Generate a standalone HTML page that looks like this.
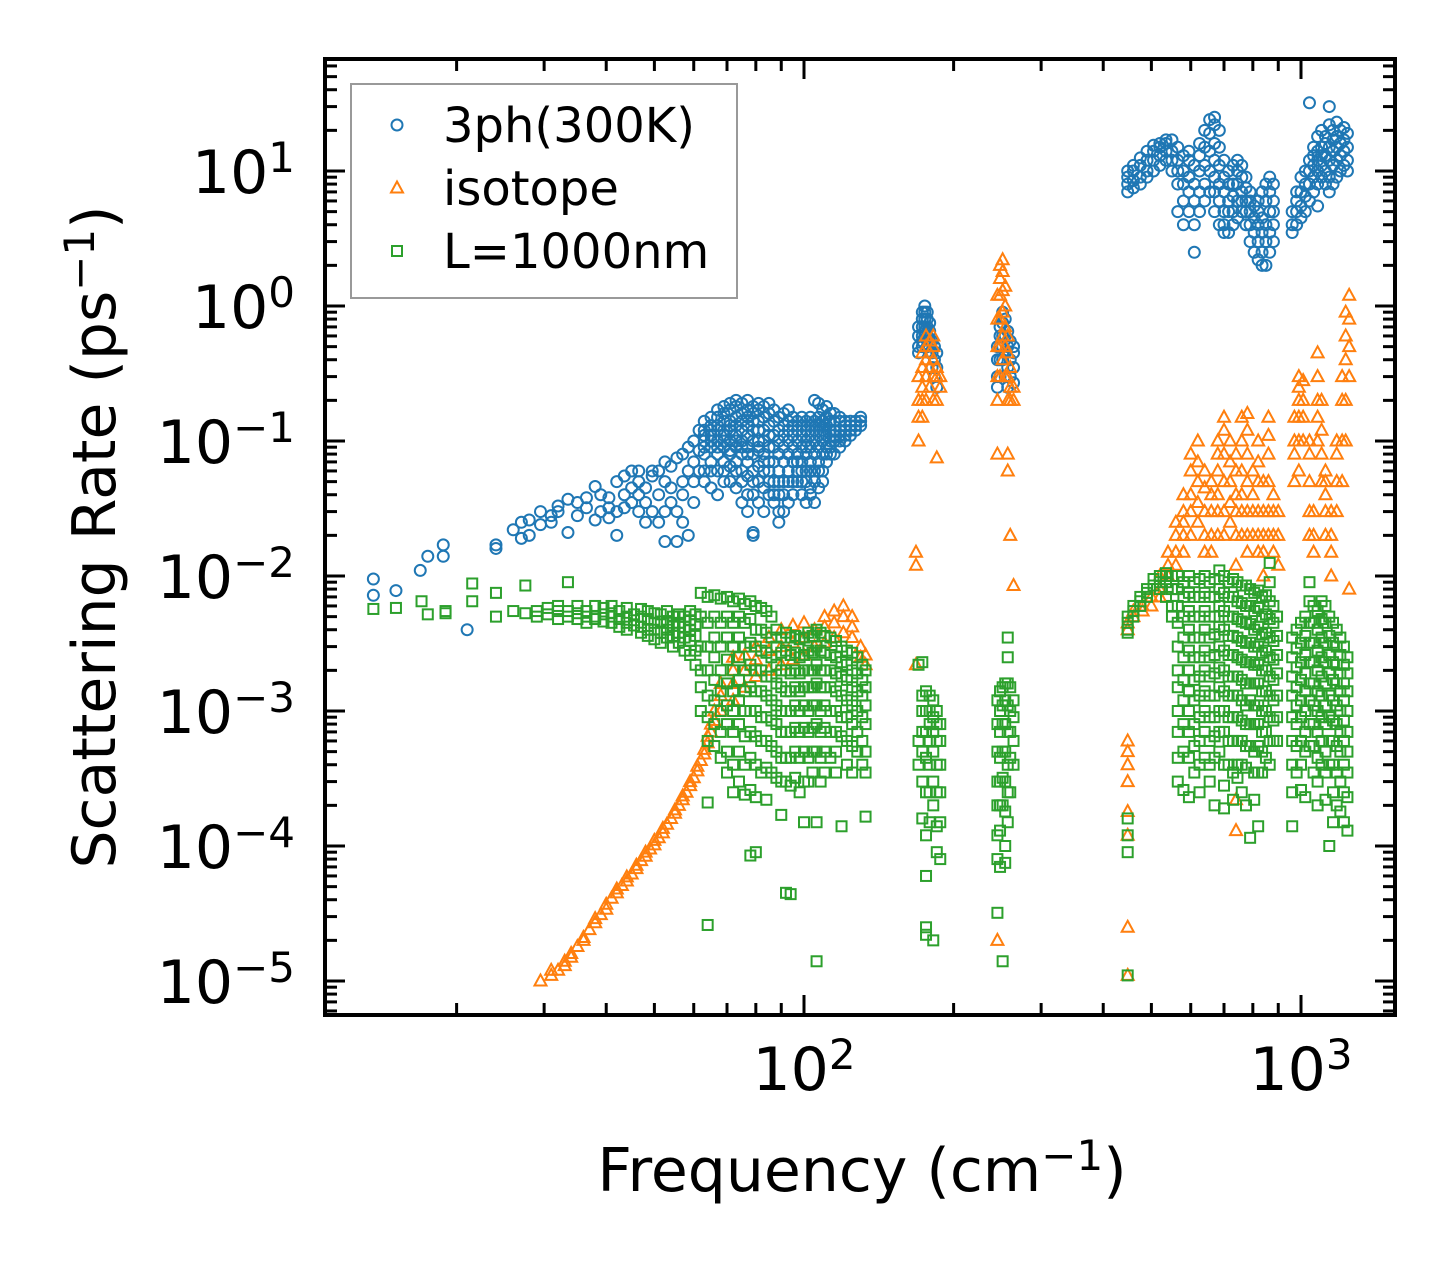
<!DOCTYPE html>
<html><head><meta charset="utf-8"><style>
html,body{margin:0;padding:0;background:#fff;}
svg{display:block;font-family:"DejaVu Sans","Liberation Sans",sans-serif;}
</style></head><body>
<svg id="chart" width="1455" height="1265" viewBox="0 0 1455 1265" xmlns="http://www.w3.org/2000/svg">
<rect width="1455" height="1265" fill="#fff"/>
<g id="marks"></g>
<g id="axes"></g>
</svg>
<script>
// ---- data (frequency cm^-1, list of scattering rates ps^-1) ----
const threePh = [[13.6,[0.0095,0.0072]],[15.1,[0.0078]],[16.9,[0.011]],[17.5,[0.014]],[18.8,[0.017,0.014]],[21,[0.004]],[24,[0.016,0.017]],[26,[0.022]],[27,[0.025,0.019]],[28,[0.02,0.026]],[29.5,[0.03,0.024]],[31,[0.025,0.028]],[32,[0.03,0.033]],[33.5,[0.037,0.021]],[35,[0.028,0.035]],[36.5,[0.038,0.032]],[38,[0.046,0.026]],[39,[0.03,0.04]],[40.5,[0.032,0.027,0.038]],[42,[0.02,0.05,0.03]],[43.5,[0.055,0.04,0.032]],[45,[0.045,0.06,0.035]],[46.5,[0.05,0.03,0.04,0.06]],[48,[0.045,0.035,0.025]],[49.5,[0.055,0.06,0.03]],[51,[0.04,0.025,0.06]],[52.5,[0.07,0.05,0.03,0.018]],[54,[0.065,0.035,0.045]],[55.5,[0.075,0.03,0.018]],[57,[0.08,0.05,0.04,0.025]],[58.5,[0.06,0.09,0.02]],[60,[0.07,0.05,0.1,0.035]],[61.5,[0.085,0.06,0.12]],
[63,[0.06,0.08,0.1,0.12,0.14,0.09,0.05,0.11]],[65,[0.07,0.09,0.11,0.13,0.15,0.1,0.06,0.12,0.045]],[67,[0.06,0.08,0.1,0.12,0.15,0.17,0.09,0.13,0.04]],[69,[0.07,0.09,0.11,0.14,0.16,0.18,0.1,0.12,0.05,0.06]],[71,[0.065,0.085,0.1,0.12,0.14,0.17,0.19,0.08,0.05,0.13]],[73,[0.07,0.09,0.11,0.13,0.15,0.18,0.2,0.06,0.045,0.1]],[75,[0.06,0.08,0.1,0.12,0.14,0.16,0.19,0.09,0.05,0.035]],[77,[0.07,0.09,0.11,0.13,0.15,0.17,0.2,0.08,0.055,0.04,0.03]],[79,[0.06,0.08,0.1,0.12,0.14,0.16,0.18,0.05,0.04,0.021,0.02]],[81,[0.065,0.085,0.1,0.12,0.14,0.17,0.19,0.09,0.05,0.035]],[83,[0.06,0.08,0.1,0.12,0.15,0.18,0.07,0.045,0.03]],[85,[0.05,0.07,0.09,0.11,0.13,0.16,0.19,0.04,0.06]],[87,[0.05,0.07,0.09,0.11,0.14,0.17,0.04,0.035]],[89,[0.06,0.08,0.1,0.12,0.15,0.05,0.04,0.03,0.025]],[91,[0.05,0.07,0.09,0.11,0.13,0.16,0.04,0.03]],[93,[0.06,0.08,0.1,0.12,0.14,0.17,0.05,0.035]],[95,[0.05,0.07,0.09,0.11,0.13,0.15,0.04]],[97,[0.06,0.08,0.1,0.12,0.14,0.07,0.05]],[99,[0.05,0.07,0.09,0.11,0.13,0.15,0.06,0.04]],[101,[0.06,0.08,0.1,0.12,0.14,0.09,0.05,0.035]],[103,[0.07,0.09,0.11,0.13,0.15,0.06,0.045,0.04]],[105,[0.06,0.08,0.1,0.12,0.14,0.2,0.05,0.035]],[107,[0.07,0.09,0.11,0.13,0.15,0.19,0.06,0.045]],[109,[0.06,0.08,0.1,0.12,0.14,0.17,0.05]],[111,[0.07,0.09,0.11,0.13,0.15,0.18,0.08]],[113,[0.08,0.1,0.12,0.14,0.16,0.09]],[115,[0.08,0.1,0.12,0.14,0.16,0.11]],[118,[0.09,0.1,0.12,0.14,0.15,0.11]],[121,[0.1,0.11,0.12,0.13,0.14]],[124,[0.11,0.12,0.13,0.14]],[127,[0.12,0.13,0.14]],[130,[0.13,0.14,0.15]],
[170,[0.45,0.5,0.6,0.7]],[173,[0.5,0.6,0.7,0.8,0.9,0.55]],[175,[0.6,0.7,0.8,0.9,1.0,0.65]],[177,[0.5,0.6,0.7,0.8,0.9]],[179,[0.45,0.55,0.65,0.75]],[181,[0.35,0.45,0.55]],[183,[0.3,0.4,0.5]],[185,[0.25,0.35,0.45]],
[245,[0.25,0.3,0.4,0.5]],[248,[0.3,0.4,0.5,0.6,0.7]],[251,[0.4,0.5,0.6,0.75,0.9]],[254,[0.3,0.45,0.6,0.8]],[257,[0.25,0.35,0.5,0.65]],[260,[0.3,0.4,0.55]],[264,[0.27,0.35,0.45,0.5]],
[448,[7,8,9,10]],[460,[7.5,8.5,10,11]],[475,[8,9,11,12.5]],[490,[9,10,12,14]],[505,[10,12,14,15.5]],[520,[11,13,15,16]],[535,[12,14,16,17]],[550,[10,12,14,17]],[565,[8,10,12,15,5]],[580,[6,8,10,13,4]],[595,[5,7,9,12,14]],[610,[4,6,8,11,2.5]],[625,[5,7,10,13,16]],[640,[6,8,11,15,20]],[655,[7,10,14,19,24]],[670,[5,7,9,12,16,22,25]],[685,[4,6,8,11,15,20]],[700,[4,5,7,9,12,3.5]],[715,[3.5,5,6,8,10]],[730,[4,5,6.5,8,11]],[745,[4.5,6,8,10,12]],[760,[5,6,7,9,11]],[775,[4,5,6,7.5,9]],[790,[3,4,5,6,7]],[805,[2.5,3.5,4.5,5.5]],[820,[2.2,3,4,5,6]],[835,[2,2.5,3.5,4.5,7]],[850,[2,3,4,6,8]],[865,[2.5,3.5,5,7,9]],[880,[3,4,5,6,8]],
[960,[3.5,4,5]],[980,[4,5,6,7]],[1000,[4.5,5.5,7,9]],[1020,[5,6.5,8,10]],[1040,[6,8,10,12,32]],[1060,[7,9,11,13,15]],[1080,[8,10,12,14,18,5.5]],[1100,[9,11,13,15,20]],[1120,[8,10,13,16,18]],[1140,[7,9,12,15,22,30]],[1160,[8,11,14,17,20]],[1180,[9,12,15,18,23]],[1200,[10,13,16,20]],[1220,[11,14,17,21]],[1240,[10,12,15,19]]];

const isotope = [[29.5,[1e-5]],[31,[1.1e-5,1.2e-5]],[32,[1.2e-5]],[33,[1.4e-5,1.3e-5]],[34,[1.6e-5,1.5e-5]],[35,[1.8e-5]],[36,[2.1e-5,2e-5]],[37,[2.4e-5]],[38,[2.7e-5,2.9e-5]],[39,[3.1e-5]],[40,[3.4e-5,3.7e-5]],[41,[4.1e-5]],[42,[4.5e-5,4.8e-5]],[43,[5.1e-5]],[44,[5.5e-5,5.9e-5]],[45,[6.2e-5]],[46,[6.8e-5,7.2e-5]],[47,[7.8e-5]],[48,[8.4e-5,9e-5]],[49,[9.5e-5]],[50,[1.02e-4,1.1e-4]],[51,[1.15e-4]],[52,[1.25e-4,1.35e-4]],[53,[1.45e-4]],[54,[1.6e-4]],[55,[1.75e-4,1.85e-4]],[56,[2e-4]],[57,[2.2e-4,2.35e-4]],[58,[2.5e-4]],[59,[2.8e-4,3e-4]],[60,[3.2e-4]],[61,[3.6e-4,3.9e-4]],[62,[4.3e-4]],[63,[4.8e-4,5.2e-4]],[64,[5.8e-4,6.5e-4]],[65,[7e-4,8e-4]],[66,[8.5e-4,1e-3]],
[68,[1e-3,1.3e-3,1.6e-3]],[72,[1.2e-3,1.6e-3,2e-3,2.5e-3]],[76,[1.5e-3,2e-3,2.6e-3]],[80,[1.8e-3,2.4e-3,3e-3]],[85,[2e-3,2.8e-3,3.5e-3]],[90,[2.2e-3,3e-3,4e-3]],[95,[2.4e-3,3.2e-3,4.3e-3]],[100,[2.6e-3,3.5e-3,4.5e-3]],[105,[3e-3,4e-3]],[110,[3.2e-3,4.2e-3,5e-3]],[115,[3.5e-3,4.5e-3,5.5e-3]],[120,[3.8e-3,5e-3,6e-3]],[125,[3.5e-3,4.2e-3,5e-3]],[130,[2.5e-3,3e-3]],[133,[2.2e-3,2.6e-3]],
[168,[0.0022,0.012,0.015]],[170,[0.1,0.15,0.2,0.3]],[173,[0.15,0.2,0.25,0.35,0.45]],[176,[0.2,0.3,0.4,0.5,0.6]],[179,[0.25,0.35,0.45,0.55]],[182,[0.2,0.3,0.4,0.5,0.6]],[185,[0.2,0.3,0.35,0.075]],[188,[0.25,0.3]],
[245,[0.08,0.2,0.3,0.5,0.8,1.2,2e-5]],[248,[0.3,0.5,0.8,1.2,1.6,2.0]],[251,[0.4,0.6,0.9,1.3,1.8,2.2]],[254,[0.3,0.5,0.7,1.0,1.4]],[257,[0.2,0.3,0.45,0.6,0.08,0.06]],[260,[0.2,0.25,0.35,0.02]],[264,[0.2,0.25,0.0085]],
[448,[6e-4,5e-4,4e-4,3e-4,1.8e-4,1.2e-4,2.5e-5,1.1e-5,4e-3,4.5e-3]],
[460,[5e-3,5.5e-3]],[480,[5.5e-3,6e-3]],[500,[6e-3,7e-3]],[520,[7e-3,8e-3,0.01]],[540,[0.01,0.012,0.015]],[560,[0.012,0.015,0.02,0.025]],[580,[0.015,0.02,0.025,0.03,0.04]],[600,[0.02,0.03,0.04,0.06,0.08]],[620,[0.025,0.035,0.05,0.07,0.1]],[640,[0.015,0.02,0.03,0.045,0.06]],[660,[0.015,0.02,0.03,0.04,0.05]],[680,[0.02,0.03,0.04,0.06,0.08,0.1]],[700,[0.02,0.03,0.05,0.08,0.12,0.15]],[720,[0.025,0.035,0.05,0.07,0.1]],[740,[0.012,0.02,0.03,0.04,0.06,0.08,1.3e-4,2.2e-4]],[760,[0.02,0.03,0.04,0.06,0.1,0.15]],[780,[0.015,0.02,0.03,0.05,0.08,0.12,0.16]],[800,[0.02,0.03,0.04,0.06]],[820,[0.015,0.02,0.03,0.05,0.07,0.1]],[840,[0.01,0.015,0.02,0.03,0.05]],[860,[0.02,0.03,0.05,0.08,0.11,0.15]],[880,[0.015,0.02,0.03,0.04]],[900,[0.012,0.02,0.03]],
[970,[0.05,0.08,0.1,0.15]],[990,[0.06,0.1,0.15,0.2,0.25,0.3]],[1010,[0.1,0.15,0.2,0.28]],[1040,[0.02,0.03,0.05,0.08,0.1]],[1060,[0.015,0.02,0.03]],[1080,[0.1,0.15,0.2,0.3,0.45]],[1100,[0.05,0.08,0.12,0.2]],[1120,[0.02,0.03,0.05,0.06,0.04]],[1150,[0.01,0.015,0.02,0.03]],[1180,[0.03,0.05,0.08,0.1]],[1210,[0.05,0.1,0.2,0.3]],[1230,[0.1,0.2,0.4,0.6,0.9]],[1250,[0.3,0.5,0.8,1.2,0.008]]];

const boundary = [[13.6,[0.0057]],[15.1,[0.0058]],[17,[0.0065]],[17.5,[0.0052]],[19,[0.0055,0.0053]],[21.5,[0.0088,0.0065]],[24,[0.0075,0.005]],[26,[0.0055]],[27.5,[0.0053,0.0085]],[29,[0.005,0.0055]],[30.5,[0.0052,0.0058]],[32,[0.006,0.0055,0.0048]],[33.5,[0.009,0.0055,0.005]],[35,[0.0053,0.0048,0.006]],[36.5,[0.0055,0.005,0.0045]],[38,[0.006,0.0048,0.005]],[39.5,[0.0058,0.0046,0.0052]],[41,[0.0053,0.0045,0.006,0.005]],[42.5,[0.0055,0.0048,0.0042]],[44,[0.0058,0.005,0.0045,0.004]],[45.5,[0.0052,0.0047,0.0043]],[47,[0.0057,0.005,0.0042,0.0038]],[48.5,[0.0055,0.0048,0.004,0.0036]],[50,[0.0053,0.0045,0.004,0.0034]],[51.5,[0.0052,0.0046,0.0038,0.0032]],[53,[0.0055,0.0045,0.004,0.0035]],[54.5,[0.005,0.0043,0.0036,0.003]],[56,[0.0052,0.0045,0.0038,0.0032]],[57.5,[0.005,0.0042,0.0035,0.0028]],[59,[0.0055,0.0047,0.004,0.0033,0.0026]],[60.5,[0.0052,0.0044,0.0036,0.0028,0.0022]],
[62,[0.0075,0.005,0.003,0.002,0.0015,0.001]],[64,[0.007,0.0045,0.003,0.002,0.0013,9e-4,6e-4,2.6e-5,2.1e-4]],[66,[0.0072,0.005,0.0035,0.0025,0.0017,0.0012,8e-4,5.5e-4]],[68,[0.0068,0.0045,0.003,0.002,0.0014,0.001,7e-4,4.5e-4]],[70,[0.007,0.005,0.0035,0.0024,0.0016,0.0011,8e-4,5e-4,3.5e-4]],[72,[0.0065,0.0045,0.003,0.002,0.0014,0.001,7e-4,4e-4,2.5e-4]],[74,[0.0068,0.005,0.0035,0.0025,0.0017,0.0012,8e-4,5e-4,3e-4]],[76,[0.0062,0.0045,0.003,0.002,0.0014,0.001,6.5e-4,4e-4,2.4e-4]],[78,[0.0065,0.0048,0.0032,0.0022,0.0015,0.001,7e-4,4.5e-4,2.6e-4,8.5e-5]],[80,[0.006,0.004,0.003,0.002,0.0014,0.001,6.5e-4,4e-4,2.3e-4,9e-5]],[82,[0.0058,0.004,0.0028,0.002,0.0014,9e-4,6e-4,3.5e-4]],[84,[0.0055,0.0038,0.0027,0.0018,0.0013,9e-4,6e-4,3.8e-4,2.2e-4]],[86,[0.005,0.0035,0.0025,0.0018,0.0012,8.5e-4,5.5e-4,3.5e-4]],[88,[0.004,0.003,0.0022,0.0016,0.0011,8e-4,5e-4,3.2e-4]],[90,[0.0035,0.0027,0.002,0.0015,0.001,7e-4,4.5e-4,3e-4,1.7e-4]],[92,[0.0038,0.0028,0.002,0.0014,0.001,7e-4,4.5e-4,3e-4,4.5e-5]],[94,[0.0035,0.0026,0.0019,0.0014,0.001,7e-4,4.5e-4,2.8e-4,4.4e-5]],[96,[0.0036,0.0027,0.002,0.0015,0.0011,7.5e-4,5e-4,3.2e-4]],[98,[0.0034,0.0025,0.0019,0.0014,0.001,7e-4,4.5e-4,2.5e-4]],[100,[0.0035,0.0026,0.002,0.0015,0.0011,7.5e-4,5e-4,3e-4,1.5e-4]],[102,[0.0038,0.0028,0.002,0.0015,0.001,7e-4,4.5e-4,3e-4]],[104,[0.0036,0.0027,0.002,0.0015,0.0011,7.5e-4,5e-4,3.5e-4]],[106,[0.004,0.003,0.0022,0.0016,0.0011,8e-4,5e-4,1.5e-4,1.4e-5]],[108,[0.0038,0.0028,0.002,0.0015,0.001,7e-4,4.5e-4,3e-4]],[110,[0.0036,0.0027,0.002,0.0015,0.0011,7.5e-4,5e-4,3.5e-4]],[113,[0.0035,0.0026,0.002,0.0015,0.001,7e-4,4.5e-4]],[116,[0.0033,0.0025,0.0019,0.0014,0.001,7e-4,5e-4,3.5e-4]],[119,[0.003,0.0023,0.0018,0.0013,9e-4,6.5e-4,1.4e-4]],[122,[0.0028,0.0022,0.0017,0.0012,9e-4,6e-4,4e-4]],[125,[0.0027,0.002,0.0015,0.0011,8e-4,5.5e-4,3.5e-4]],[128,[0.0025,0.0019,0.0014,0.001,7e-4,5e-4]],[131,[0.0022,0.0017,0.0013,9e-4,6e-4,4e-4]],[133,[0.002,0.0015,0.0011,8e-4,5e-4,3.5e-4,1.65e-4]],
[170,[2.2e-3,6e-4,4e-4]],[173,[2.3e-3,1.3e-3,1e-3,7e-4,5e-4,3e-4,1.6e-4]],[176,[1.4e-3,1e-3,7e-4,4.5e-4,2.5e-4,1.2e-4,6e-5,2.5e-5,2.2e-5]],[179,[1.3e-3,1e-3,8e-4,6e-4,4e-4,2.5e-4,1.5e-4]],[182,[1.2e-3,9e-4,7e-4,5e-4,3e-4,2e-4,2e-5]],[185,[1e-3,8e-4,6e-4,4e-4,2.5e-4,1.4e-4,9e-5]],[188,[8e-4,6e-4,4e-4,2.5e-4,1.5e-4,8e-5]],
[245,[1.2e-3,8e-4,5e-4,3e-4,2e-4,1.2e-4,8e-5,3.2e-5]],[248,[1.4e-3,1e-3,7e-4,4.5e-4,3e-4,2e-4,1.3e-4,7e-5]],[251,[1.5e-3,1.1e-3,8e-4,5e-4,3.2e-4,2e-4,1.4e-5]],[254,[1.6e-3,1.2e-3,8e-4,5e-4,3e-4,1.8e-4,1e-4,7.5e-5]],[257,[3.5e-3,2.5e-3,1.6e-3,1.1e-3,7e-4,4e-4,2.5e-4,1.5e-4]],[260,[1.5e-3,1e-3,7e-4,4.5e-4,2.5e-4]],[264,[1.2e-3,9e-4,6e-4,4e-4]],
[448,[5e-3,4.5e-3,4e-3,3.8e-3,1.6e-4,1.2e-4,9e-5,1.1e-5]],
[460,[5.5e-3,5e-3,6e-3]],[475,[6e-3,7e-3,6.5e-3]],[490,[7e-3,8e-3,7.5e-3]],[505,[8.5e-3,9.5e-3]],[520,[9e-3,1e-2,8e-3]],[535,[1e-2,1.05e-2,9e-3,7e-3]],[550,[1e-2,8e-3,6e-3,5e-3]],[565,[0.01,0.008,0.006,0.0045,0.003,0.002,0.0015,0.001,7e-4,4.5e-4,3e-4]],[580,[0.009,0.007,0.005,0.0035,0.0025,0.0017,0.0012,8e-4,5e-4,2.6e-4]],[595,[0.01,0.0075,0.0055,0.004,0.0028,0.002,0.0014,0.001,7e-4,4.5e-4,2.3e-4]],[610,[0.009,0.007,0.005,0.0035,0.0025,0.0017,0.0012,8e-4,5.5e-4,3.5e-4]],[625,[0.0095,0.007,0.005,0.0035,0.0025,0.0018,0.0013,9e-4,6e-4,4e-4,2.5e-4]],[640,[0.01,0.0075,0.0055,0.004,0.0028,0.002,0.0014,0.001,7e-4,4.5e-4]],[655,[0.009,0.007,0.005,0.0035,0.0025,0.0018,0.0013,9e-4,6e-4,4e-4,3e-4]],[670,[0.0095,0.007,0.005,0.0037,0.0026,0.0019,0.0013,9e-4,6.5e-4,4.5e-4,2e-4]],[685,[0.011,0.008,0.006,0.0042,0.003,0.0021,0.0015,0.001,7e-4,5e-4]],[700,[0.01,0.0075,0.0055,0.004,0.0028,0.002,0.0014,0.001,7e-4,4e-4,2.8e-4,1.9e-4]],[715,[0.009,0.007,0.005,0.0036,0.0026,0.0018,0.0013,9e-4,6e-4,4e-4]],[730,[0.0095,0.007,0.005,0.0036,0.0026,0.0018,0.0013,9e-4,6e-4,3.5e-4,2.2e-4]],[745,[0.009,0.0065,0.0048,0.0035,0.0025,0.0018,0.0013,9e-4,6e-4,4e-4,3.2e-4]],[760,[0.0085,0.0063,0.0046,0.0033,0.0024,0.0017,0.0012,8.5e-4,6e-4,4e-4,2.5e-4]],[775,[0.0085,0.006,0.0045,0.0032,0.0023,0.0016,0.0011,8e-4,5.5e-4,3.8e-4,2e-4]],[790,[0.008,0.006,0.0044,0.0032,0.0023,0.0016,0.0012,8e-4,5.5e-4,1.15e-4]],[805,[0.0075,0.0055,0.004,0.003,0.0022,0.0016,0.0011,8e-4,5e-4,3.5e-4,2.2e-4]],[820,[0.0078,0.0058,0.0042,0.003,0.0022,0.0016,0.0011,8e-4,5.5e-4,3.5e-4,1.4e-4]],[835,[0.007,0.005,0.0037,0.0027,0.002,0.0014,0.001,7e-4,5e-4,3.5e-4]],[850,[0.0072,0.0052,0.0038,0.0028,0.002,0.0014,0.001,7e-4,4.5e-4]],[865,[0.0125,0.009,0.0065,0.0048,0.0035,0.0025,0.0018,0.0013,9e-4,6e-4,4e-4]],[880,[0.006,0.0045,0.0033,0.0024,0.0017,0.0012,8.5e-4,6e-4]],[895,[0.005,0.0036,0.0026,0.0019,0.0013,9e-4,6e-4]],
[960,[0.0035,0.0025,0.0018,0.0013,9e-4,6e-4,4e-4,2.5e-4,1.4e-4]],[980,[0.004,0.0029,0.0021,0.0015,0.0011,8e-4,5.5e-4,3.5e-4]],[1000,[0.0045,0.0032,0.0023,0.0017,0.0012,9e-4,6e-4,4e-4,2.6e-4]],[1020,[0.005,0.0036,0.0026,0.0019,0.0014,0.001,7e-4,5e-4,2.3e-4]],[1040,[0.009,0.0065,0.0045,0.0032,0.0023,0.0016,0.0012,8e-4,5.5e-4]],[1060,[0.006,0.0045,0.0032,0.0023,0.0016,0.0011,8e-4,5.5e-4,3.5e-4]],[1080,[0.0055,0.004,0.0028,0.002,0.0014,0.001,7e-4,4.5e-4,3e-4,2e-4]],[1100,[0.0065,0.0048,0.0035,0.0025,0.0018,0.0013,9e-4,6e-4,4e-4]],[1120,[0.006,0.0045,0.0032,0.0023,0.0016,0.0011,8e-4,5e-4,3.5e-4,2.2e-4]],[1140,[0.005,0.0036,0.0026,0.0019,0.0013,9e-4,6e-4,4e-4,1e-4]],[1160,[0.0045,0.0032,0.0023,0.0017,0.0012,8.5e-4,6e-4,4e-4,2.5e-4,1.5e-4]],[1180,[0.004,0.003,0.0022,0.0016,0.0011,8e-4,5.5e-4,3.5e-4,2e-4]],[1200,[0.0035,0.0026,0.0019,0.0014,0.001,7e-4,5e-4,3e-4,1.8e-4]],[1220,[0.003,0.0022,0.0016,0.0012,8.5e-4,6e-4,4e-4,2.5e-4,1.5e-4]],[1240,[0.0025,0.0019,0.0014,0.001,7e-4,5e-4,3.5e-4,2.3e-4,1.3e-4]]];

const xMajorTicks = [100, 1000];
const xMajorLabels = ["2", "3"];
const yMajorTicks = [1e-5, 1e-4, 1e-3, 1e-2, 1e-1, 1, 10];
const yMajorLabels = ["\u22125", "\u22124", "\u22123", "\u22122", "\u22121", "0", "1"];
const legendLabels = ["3ph(300K)", "isotope", "L=1000nm"];

// ---- axes geometry ----
const NS = "http://www.w3.org/2000/svg";
const L = 325, R = 1395, T = 59, B = 1015;
const X0 = 804, XD = 497;   // pixel of 10^2, px per decade
const Y0 = 171, YD = 135;   // pixel of 10^1, px per decade
function xs(f) { return X0 + XD * (Math.log10(f) - 2); }
function ys(v) { return Y0 + YD * (1 - Math.log10(v)); }
const xMin = Math.pow(10, 2 + (L - X0) / XD), xMax = Math.pow(10, 2 + (R - X0) / XD);
const yMin = Math.pow(10, 1 - (B - Y0) / YD), yMax = Math.pow(10, 1 - (T - Y0) / YD);

function mk(tag, attrs, parent) {
  const e = document.createElementNS(NS, tag);
  for (const k in attrs) e.setAttribute(k, attrs[k]);
  parent.appendChild(e);
  return e;
}
const marks = document.getElementById('marks');
const axes = document.getElementById('axes');

function circle(g, x, y, c) { return mk('circle', {cx: x, cy: y, r: 5.5, fill: 'none', stroke: c, 'stroke-width': 2}, g); }
function tri(g, x, y, c) { return mk('path', {d: `M${x},${y-6.5}L${x+6},${y+4.5}L${x-6},${y+4.5}Z`, fill: 'none', stroke: c, 'stroke-width': 2}, g); }
function sq(g, x, y, c) { return mk('rect', {x: x-5, y: y-5, width: 10, height: 10, fill: 'none', stroke: c, 'stroke-width': 2}, g); }

function drawSeries(data, name, color, shape) {
  const g = mk('g', {}, marks);
  
  
  data.forEach(col => {
    col[1].forEach(v => {
      const el = shape(g, xs(col[0]), ys(v), color);
      
      
    });
  });
}
drawSeries(threePh, 'series-3ph', '#1f77b4', circle);
drawSeries(isotope, 'series-isotope', '#ff7f0e', tri);
drawSeries(boundary, 'series-boundary', '#2ca02c', sq);

// ---- ticks ----
const tk = mk('g', {stroke: '#000', 'stroke-width': 3}, axes);


for (let d = 1; d <= 4; d++) {
  for (let m = 1; m <= 9; m++) {
    const f = m * Math.pow(10, d);
    if (f < xMin || f > xMax) continue;
    const x = xs(f), len = m === 1 ? 20 : 12;
    mk('line', {x1: x, y1: B, x2: x, y2: B - len}, tk);
    mk('line', {x1: x, y1: T, x2: x, y2: T + len}, tk);
  }
}
for (let d = -6; d <= 2; d++) {
  for (let m = 1; m <= 9; m++) {
    const v = m * Math.pow(10, d);
    if (v < yMin || v > yMax) continue;
    const y = ys(v), len = m === 1 ? 20 : 12;
    mk('line', {x1: L, y1: y, x2: L + len, y2: y}, tk);
    mk('line', {x1: R, y1: y, x2: R - len, y2: y}, tk);
  }
}
const frame = mk('rect', {x: L, y: T, width: R - L, height: B - T, fill: 'none', stroke: '#000', 'stroke-width': 4}, axes);



// ---- tick labels ----
yMajorTicks.forEach((v, i) => {
  const t = mk('text', {x: 295, y: ys(v) + 22, 'text-anchor': 'end', 'font-size': 60, fill: '#000'}, axes);
  
  
  t.appendChild(document.createTextNode('10'));
  const s = mk('tspan', {dy: -21, 'font-size': 42}, t);
  s.textContent = yMajorLabels[i];
});
xMajorTicks.forEach((f, i) => {
  const t = mk('text', {x: xs(f), y: 1090, 'text-anchor': 'middle', 'font-size': 60, fill: '#000'}, axes);
  
  
  t.appendChild(document.createTextNode('10'));
  const s = mk('tspan', {dy: -21, 'font-size': 42}, t);
  s.textContent = xMajorLabels[i];
});

// ---- axis titles ----
const xt = mk('text', {x: 862, y: 1191, 'text-anchor': 'middle', 'font-size': 60, fill: '#000'}, axes);


xt.appendChild(document.createTextNode('Frequency (cm'));
mk('tspan', {dy: -21, 'font-size': 42}, xt).textContent = '\u22121';
mk('tspan', {dy: 21}, xt).textContent = ')';

const yt = mk('text', {x: 0, y: 0, 'text-anchor': 'middle', 'font-size': 60, fill: '#000', transform: 'translate(115,537) rotate(-90)'}, axes);


yt.appendChild(document.createTextNode('Scattering Rate (ps'));
mk('tspan', {dy: -21, 'font-size': 42}, yt).textContent = '\u22121';
mk('tspan', {dy: 21}, yt).textContent = ')';

// ---- legend ----
const lg = mk('g', {}, axes);


mk('rect', {x: 351, y: 84, width: 386, height: 214, fill: '#fff', 'fill-opacity': 0.8, stroke: '#999', 'stroke-width': 2}, lg);
const legColors = ['#1f77b4', '#ff7f0e', '#2ca02c'];
const legShapes = [circle, tri, sq];
legendLabels.forEach((lab, i) => {
  const y = 125 + i * 63;
  const e = mk('g', {}, lg);
  
  
  legShapes[i](e, 397, y, legColors[i]);
  const t = mk('text', {x: 443, y: y + 17, 'font-size': 48, fill: '#000'}, e);
  t.textContent = lab;
});
</script>
</body></html>
